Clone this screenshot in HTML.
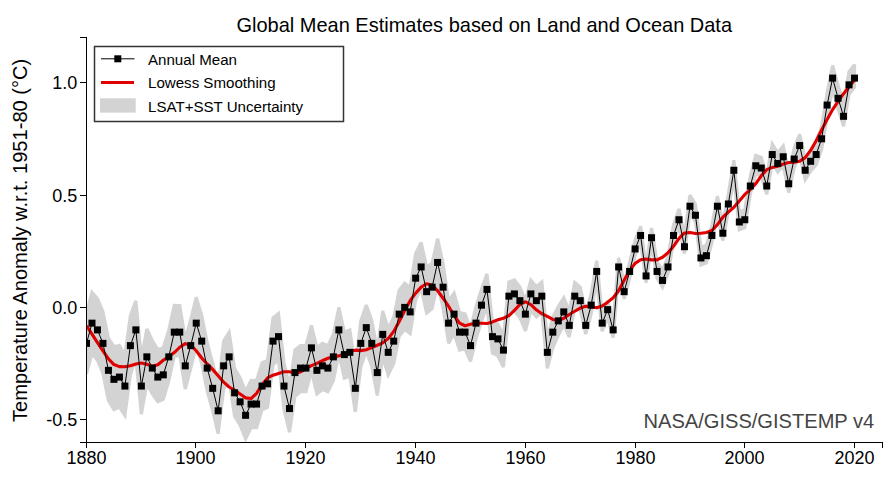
<!DOCTYPE html>
<html><head><meta charset="utf-8"><style>
html,body{margin:0;padding:0;background:#fff;}
svg{display:block;}
text{font-family:"Liberation Sans",Arial,sans-serif;fill:#000;}
</style></head><body>
<svg width="892" height="484" viewBox="0 0 892 484">
<rect width="892" height="484" fill="#fff"/>
<defs><clipPath id="c"><rect x="87" y="30" width="800" height="412"/></clipPath></defs>
<g clip-path="url(#c)"><polygon points="86.50,313.02 91.99,292.34 97.47,298.63 102.96,311.67 108.44,338.20 113.93,346.74 119.42,345.39 124.90,355.28 130.39,315.72 135.87,300.88 141.36,357.98 146.85,328.98 152.33,340.45 157.82,349.66 163.30,347.64 168.79,329.88 174.28,305.38 179.76,305.60 185.25,339.55 190.73,319.54 196.22,297.28 201.71,315.49 207.19,342.69 212.68,363.15 218.16,385.86 223.65,341.12 229.14,332.35 234.62,368.55 240.11,377.76 245.59,391.48 251.08,380.46 256.57,380.57 262.05,362.70 267.54,360.57 273.02,317.97 278.51,313.58 284.00,363.15 289.48,385.74 294.97,349.89 300.45,345.50 305.94,345.62 311.43,325.38 316.91,347.86 322.40,343.37 327.88,345.62 333.37,334.38 338.86,307.40 344.34,332.13 349.83,329.88 355.31,365.85 360.80,320.89 366.29,304.93 371.77,320.44 377.26,349.44 382.74,311.00 388.23,328.76 393.72,317.29 399.20,290.09 404.69,283.12 410.17,287.39 415.66,253.45 421.15,242.43 426.63,267.39 432.12,263.11 437.60,238.61 443.09,263.56 448.58,300.88 454.06,293.24 459.55,312.57 465.03,313.92 470.52,328.76 476.01,306.73 481.49,289.19 486.98,273.90 492.46,321.56 497.95,324.26 503.44,335.72 508.92,282.00 514.41,279.97 519.89,286.94 525.38,300.66 530.87,280.20 536.35,286.72 541.84,282.00 547.32,337.97 552.81,317.52 558.30,306.50 563.78,297.73 569.27,311.45 574.75,282.45 580.24,287.17 585.73,312.80 591.21,293.46 596.70,260.64 602.18,313.24 607.67,300.66 613.16,320.89 618.64,257.94 624.13,282.67 629.61,262.44 635.10,239.96 640.59,226.25 646.07,266.49 651.56,228.05 657.04,261.54 662.53,270.31 668.02,256.60 673.50,224.90 678.99,208.94 684.47,235.69 689.96,195.00 695.45,204.22 700.93,247.15 706.42,245.13 711.90,225.12 717.39,196.12 722.88,223.10 728.36,193.88 733.85,160.16 739.33,211.86 744.82,209.61 750.31,175.78 755.79,155.44 761.28,157.57 766.76,175.44 772.25,143.86 777.74,152.74 783.22,145.88 788.71,172.74 794.19,147.90 799.68,134.30 805.17,158.81 810.65,149.59 816.14,142.62 821.62,126.66 827.11,92.72 832.60,65.52 838.08,85.52 843.57,103.28 849.05,71.58 854.54,64.62 854.54,87.10 849.05,94.29 843.57,126.21 838.08,108.68 832.60,88.89 827.11,116.32 821.62,149.59 816.14,164.88 810.65,171.17 805.17,179.71 799.68,154.54 794.19,167.91 788.71,192.53 783.22,165.44 777.74,172.07 772.25,162.97 766.76,194.33 761.28,176.23 755.79,173.87 750.31,193.99 744.82,227.60 739.33,229.73 733.85,177.92 728.36,211.52 722.88,240.63 717.39,213.55 711.90,242.66 706.42,262.78 700.93,264.91 695.45,222.09 689.96,212.98 684.47,253.45 678.99,226.47 673.50,242.21 668.02,273.68 662.53,287.17 657.04,278.18 651.56,244.46 646.07,282.67 640.59,242.21 635.10,255.70 629.61,278.40 624.13,298.86 618.64,274.35 613.16,337.52 607.67,317.52 602.18,331.23 596.70,279.75 591.21,313.69 585.73,334.15 580.24,309.65 574.75,306.50 569.27,337.07 563.78,324.93 558.30,335.28 552.81,347.86 547.32,368.32 541.84,312.35 536.35,317.07 530.87,310.55 525.38,331.00 519.89,317.52 514.41,310.77 508.92,313.02 503.44,366.97 497.95,355.73 492.46,353.26 486.98,305.83 481.49,321.34 476.01,339.10 470.52,361.35 465.03,348.99 459.55,350.11 454.06,333.25 448.58,343.37 443.09,308.52 437.60,283.80 432.12,308.52 426.63,313.02 421.15,288.29 415.66,299.53 410.17,333.48 404.69,329.21 399.20,336.17 393.72,363.38 388.23,374.84 382.74,357.08 377.26,395.52 371.77,366.52 366.29,351.01 360.80,366.97 355.31,411.93 349.83,375.96 344.34,378.21 338.86,353.48 333.37,380.46 327.88,391.70 322.40,389.45 316.91,393.95 311.43,371.47 305.94,391.70 300.45,391.70 294.97,396.20 289.48,432.16 284.00,409.68 278.51,360.23 273.02,364.72 267.54,407.44 262.05,409.68 256.57,427.67 251.08,427.67 245.59,438.80 240.11,425.20 234.62,416.09 229.14,380.01 223.65,388.89 218.16,433.74 212.68,411.15 207.19,390.80 201.71,363.71 196.22,345.62 190.73,368.42 185.25,388.97 179.76,355.57 174.28,355.89 168.79,380.94 163.30,399.25 157.82,401.82 152.33,393.95 146.85,383.83 141.36,414.18 135.87,358.43 130.39,374.62 124.90,415.53 119.42,406.99 113.93,409.68 108.44,400.69 102.96,373.72 97.47,360.23 91.99,353.48 86.50,373.72" fill="#d3d3d3" stroke="#d3d3d3" stroke-width="3.2" stroke-linejoin="miter" stroke-miterlimit="3"/>
<polyline points="86.50,325.74 91.99,334.17 97.47,342.63 102.96,350.79 108.44,358.88 113.93,364.55 119.42,366.61 124.90,366.79 130.39,365.66 135.87,363.92 141.36,363.04 146.85,364.26 152.33,366.24 157.82,364.80 163.30,360.20 168.79,356.52 174.28,352.54 179.76,347.24 185.25,343.66 190.73,344.97 196.22,350.76 201.71,358.05 207.19,363.95 212.68,369.37 218.16,375.76 223.65,382.18 229.14,386.98 234.62,390.24 240.11,394.00 245.59,397.85 251.08,398.53 256.57,393.43 262.05,384.71 267.54,377.96 273.02,375.17 278.51,373.42 284.00,371.79 289.48,371.79 294.97,372.95 300.45,371.93 305.94,368.56 311.43,365.59 316.91,363.39 322.40,360.71 327.88,358.28 333.37,356.80 338.86,355.89 344.34,354.15 349.83,351.48 355.31,350.16 360.80,350.60 366.29,349.73 371.77,347.61 377.26,345.27 382.74,342.86 388.23,338.57 393.72,331.42 399.20,321.51 404.69,310.57 410.17,300.69 415.66,293.11 421.15,287.16 426.63,283.69 432.12,285.01 437.60,290.72 443.09,298.22 448.58,306.25 454.06,315.53 459.55,323.19 465.03,325.76 470.52,324.22 476.01,323.07 481.49,323.24 486.98,323.52 492.46,321.92 497.95,319.72 503.44,318.22 508.92,315.70 514.41,310.35 519.89,304.46 525.38,301.75 530.87,304.63 536.35,309.77 541.84,313.68 547.32,316.46 552.81,319.47 558.30,320.54 563.78,318.29 569.27,314.49 574.75,311.26 580.24,308.06 585.73,306.31 591.21,306.67 596.70,307.84 602.18,305.97 607.67,302.15 613.16,297.81 618.64,290.81 624.13,280.30 629.61,270.59 635.10,263.33 640.59,259.81 646.07,258.95 651.56,259.90 657.04,259.90 662.53,257.27 668.02,252.73 673.50,246.34 678.99,238.29 684.47,232.97 689.96,232.49 695.45,233.45 700.93,233.18 706.42,232.41 711.90,230.56 717.39,224.67 722.88,217.23 728.36,212.11 733.85,207.32 739.33,201.01 744.82,194.41 750.31,189.54 755.79,183.64 761.28,175.80 766.76,169.66 772.25,167.43 777.74,166.24 783.22,164.10 788.71,162.49 794.19,162.31 799.68,161.34 805.17,157.61 810.65,150.40 816.14,140.68 821.62,130.03 827.11,119.64 832.60,109.52 838.08,101.41 843.57,93.69 849.05,86.70 854.54,80.12" fill="none" stroke="#e00000" stroke-width="3.1" stroke-linejoin="round"/>
<polyline points="86.50,343.37 91.99,323.14 97.47,329.88 102.96,343.37 108.44,370.34 113.93,379.34 119.42,377.09 124.90,386.08 130.39,345.62 135.87,329.88 141.36,386.08 146.85,356.86 152.33,368.10 157.82,377.09 163.30,374.84 168.79,356.86 174.28,332.13 179.76,332.13 185.25,365.85 190.73,345.62 196.22,323.14 201.71,341.12 207.19,368.10 212.68,388.33 218.16,410.81 223.65,365.85 229.14,356.86 234.62,392.82 240.11,401.82 245.59,415.30 251.08,404.06 256.57,404.06 262.05,386.08 267.54,383.83 273.02,341.12 278.51,336.62 284.00,386.08 289.48,408.56 294.97,372.59 300.45,368.10 305.94,368.10 311.43,347.86 316.91,370.34 322.40,365.85 327.88,368.10 333.37,356.86 338.86,329.88 344.34,354.61 349.83,352.36 355.31,388.33 360.80,343.37 366.29,327.63 371.77,343.37 377.26,372.59 382.74,334.38 388.23,352.36 393.72,341.12 399.20,314.14 404.69,307.40 410.17,311.90 415.66,278.18 421.15,266.94 426.63,291.66 432.12,287.17 437.60,262.44 443.09,287.17 448.58,323.14 454.06,314.14 459.55,332.13 465.03,332.13 470.52,345.62 476.01,323.14 481.49,305.15 486.98,289.42 492.46,336.62 497.95,338.87 503.44,350.11 508.92,296.16 514.41,293.91 519.89,300.66 525.38,314.14 530.87,293.91 536.35,300.66 541.84,296.16 547.32,352.36 552.81,332.13 558.30,320.89 563.78,311.90 569.27,325.38 574.75,296.16 580.24,300.66 585.73,325.38 591.21,305.15 596.70,271.43 602.18,323.14 607.67,309.65 613.16,329.88 618.64,266.94 624.13,291.66 629.61,271.43 635.10,248.95 640.59,235.46 646.07,275.93 651.56,237.71 657.04,271.43 662.53,280.42 668.02,266.94 673.50,235.46 678.99,219.73 684.47,246.70 689.96,206.24 695.45,215.23 700.93,257.94 706.42,255.70 711.90,235.46 717.39,206.24 722.88,233.22 728.36,203.99 733.85,170.27 739.33,221.98 744.82,219.73 750.31,186.01 755.79,165.78 761.28,168.02 766.76,186.01 772.25,154.54 777.74,163.53 783.22,156.78 788.71,183.76 794.19,159.03 799.68,145.54 805.17,170.27 810.65,161.28 816.14,154.54 821.62,138.80 827.11,105.08 832.60,78.10 838.08,98.34 843.57,116.32 849.05,84.85 854.54,78.10" fill="none" stroke="#000" stroke-width="1"/>
<g fill="#000"><rect x="83.00" y="339.87" width="7.0" height="7.0"/><rect x="88.49" y="319.64" width="7.0" height="7.0"/><rect x="93.97" y="326.38" width="7.0" height="7.0"/><rect x="99.46" y="339.87" width="7.0" height="7.0"/><rect x="104.94" y="366.84" width="7.0" height="7.0"/><rect x="110.43" y="375.84" width="7.0" height="7.0"/><rect x="115.92" y="373.59" width="7.0" height="7.0"/><rect x="121.40" y="382.58" width="7.0" height="7.0"/><rect x="126.89" y="342.12" width="7.0" height="7.0"/><rect x="132.37" y="326.38" width="7.0" height="7.0"/><rect x="137.86" y="382.58" width="7.0" height="7.0"/><rect x="143.35" y="353.36" width="7.0" height="7.0"/><rect x="148.83" y="364.60" width="7.0" height="7.0"/><rect x="154.32" y="373.59" width="7.0" height="7.0"/><rect x="159.80" y="371.34" width="7.0" height="7.0"/><rect x="165.29" y="353.36" width="7.0" height="7.0"/><rect x="170.78" y="328.63" width="7.0" height="7.0"/><rect x="176.26" y="328.63" width="7.0" height="7.0"/><rect x="181.75" y="362.35" width="7.0" height="7.0"/><rect x="187.23" y="342.12" width="7.0" height="7.0"/><rect x="192.72" y="319.64" width="7.0" height="7.0"/><rect x="198.21" y="337.62" width="7.0" height="7.0"/><rect x="203.69" y="364.60" width="7.0" height="7.0"/><rect x="209.18" y="384.83" width="7.0" height="7.0"/><rect x="214.66" y="407.31" width="7.0" height="7.0"/><rect x="220.15" y="362.35" width="7.0" height="7.0"/><rect x="225.64" y="353.36" width="7.0" height="7.0"/><rect x="231.12" y="389.32" width="7.0" height="7.0"/><rect x="236.61" y="398.32" width="7.0" height="7.0"/><rect x="242.09" y="411.80" width="7.0" height="7.0"/><rect x="247.58" y="400.56" width="7.0" height="7.0"/><rect x="253.07" y="400.56" width="7.0" height="7.0"/><rect x="258.55" y="382.58" width="7.0" height="7.0"/><rect x="264.04" y="380.33" width="7.0" height="7.0"/><rect x="269.52" y="337.62" width="7.0" height="7.0"/><rect x="275.01" y="333.12" width="7.0" height="7.0"/><rect x="280.50" y="382.58" width="7.0" height="7.0"/><rect x="285.98" y="405.06" width="7.0" height="7.0"/><rect x="291.47" y="369.09" width="7.0" height="7.0"/><rect x="296.95" y="364.60" width="7.0" height="7.0"/><rect x="302.44" y="364.60" width="7.0" height="7.0"/><rect x="307.93" y="344.36" width="7.0" height="7.0"/><rect x="313.41" y="366.84" width="7.0" height="7.0"/><rect x="318.90" y="362.35" width="7.0" height="7.0"/><rect x="324.38" y="364.60" width="7.0" height="7.0"/><rect x="329.87" y="353.36" width="7.0" height="7.0"/><rect x="335.36" y="326.38" width="7.0" height="7.0"/><rect x="340.84" y="351.11" width="7.0" height="7.0"/><rect x="346.33" y="348.86" width="7.0" height="7.0"/><rect x="351.81" y="384.83" width="7.0" height="7.0"/><rect x="357.30" y="339.87" width="7.0" height="7.0"/><rect x="362.79" y="324.13" width="7.0" height="7.0"/><rect x="368.27" y="339.87" width="7.0" height="7.0"/><rect x="373.76" y="369.09" width="7.0" height="7.0"/><rect x="379.24" y="330.88" width="7.0" height="7.0"/><rect x="384.73" y="348.86" width="7.0" height="7.0"/><rect x="390.22" y="337.62" width="7.0" height="7.0"/><rect x="395.70" y="310.64" width="7.0" height="7.0"/><rect x="401.19" y="303.90" width="7.0" height="7.0"/><rect x="406.67" y="308.40" width="7.0" height="7.0"/><rect x="412.16" y="274.68" width="7.0" height="7.0"/><rect x="417.65" y="263.44" width="7.0" height="7.0"/><rect x="423.13" y="288.16" width="7.0" height="7.0"/><rect x="428.62" y="283.67" width="7.0" height="7.0"/><rect x="434.10" y="258.94" width="7.0" height="7.0"/><rect x="439.59" y="283.67" width="7.0" height="7.0"/><rect x="445.08" y="319.64" width="7.0" height="7.0"/><rect x="450.56" y="310.64" width="7.0" height="7.0"/><rect x="456.05" y="328.63" width="7.0" height="7.0"/><rect x="461.53" y="328.63" width="7.0" height="7.0"/><rect x="467.02" y="342.12" width="7.0" height="7.0"/><rect x="472.51" y="319.64" width="7.0" height="7.0"/><rect x="477.99" y="301.65" width="7.0" height="7.0"/><rect x="483.48" y="285.92" width="7.0" height="7.0"/><rect x="488.96" y="333.12" width="7.0" height="7.0"/><rect x="494.45" y="335.37" width="7.0" height="7.0"/><rect x="499.94" y="346.61" width="7.0" height="7.0"/><rect x="505.42" y="292.66" width="7.0" height="7.0"/><rect x="510.91" y="290.41" width="7.0" height="7.0"/><rect x="516.39" y="297.16" width="7.0" height="7.0"/><rect x="521.88" y="310.64" width="7.0" height="7.0"/><rect x="527.37" y="290.41" width="7.0" height="7.0"/><rect x="532.85" y="297.16" width="7.0" height="7.0"/><rect x="538.34" y="292.66" width="7.0" height="7.0"/><rect x="543.82" y="348.86" width="7.0" height="7.0"/><rect x="549.31" y="328.63" width="7.0" height="7.0"/><rect x="554.80" y="317.39" width="7.0" height="7.0"/><rect x="560.28" y="308.40" width="7.0" height="7.0"/><rect x="565.77" y="321.88" width="7.0" height="7.0"/><rect x="571.25" y="292.66" width="7.0" height="7.0"/><rect x="576.74" y="297.16" width="7.0" height="7.0"/><rect x="582.23" y="321.88" width="7.0" height="7.0"/><rect x="587.71" y="301.65" width="7.0" height="7.0"/><rect x="593.20" y="267.93" width="7.0" height="7.0"/><rect x="598.68" y="319.64" width="7.0" height="7.0"/><rect x="604.17" y="306.15" width="7.0" height="7.0"/><rect x="609.66" y="326.38" width="7.0" height="7.0"/><rect x="615.14" y="263.44" width="7.0" height="7.0"/><rect x="620.63" y="288.16" width="7.0" height="7.0"/><rect x="626.11" y="267.93" width="7.0" height="7.0"/><rect x="631.60" y="245.45" width="7.0" height="7.0"/><rect x="637.09" y="231.96" width="7.0" height="7.0"/><rect x="642.57" y="272.43" width="7.0" height="7.0"/><rect x="648.06" y="234.21" width="7.0" height="7.0"/><rect x="653.54" y="267.93" width="7.0" height="7.0"/><rect x="659.03" y="276.92" width="7.0" height="7.0"/><rect x="664.52" y="263.44" width="7.0" height="7.0"/><rect x="670.00" y="231.96" width="7.0" height="7.0"/><rect x="675.49" y="216.23" width="7.0" height="7.0"/><rect x="680.97" y="243.20" width="7.0" height="7.0"/><rect x="686.46" y="202.74" width="7.0" height="7.0"/><rect x="691.95" y="211.73" width="7.0" height="7.0"/><rect x="697.43" y="254.44" width="7.0" height="7.0"/><rect x="702.92" y="252.20" width="7.0" height="7.0"/><rect x="708.40" y="231.96" width="7.0" height="7.0"/><rect x="713.89" y="202.74" width="7.0" height="7.0"/><rect x="719.38" y="229.72" width="7.0" height="7.0"/><rect x="724.86" y="200.49" width="7.0" height="7.0"/><rect x="730.35" y="166.77" width="7.0" height="7.0"/><rect x="735.83" y="218.48" width="7.0" height="7.0"/><rect x="741.32" y="216.23" width="7.0" height="7.0"/><rect x="746.81" y="182.51" width="7.0" height="7.0"/><rect x="752.29" y="162.28" width="7.0" height="7.0"/><rect x="757.78" y="164.52" width="7.0" height="7.0"/><rect x="763.26" y="182.51" width="7.0" height="7.0"/><rect x="768.75" y="151.04" width="7.0" height="7.0"/><rect x="774.24" y="160.03" width="7.0" height="7.0"/><rect x="779.72" y="153.28" width="7.0" height="7.0"/><rect x="785.21" y="180.26" width="7.0" height="7.0"/><rect x="790.69" y="155.53" width="7.0" height="7.0"/><rect x="796.18" y="142.04" width="7.0" height="7.0"/><rect x="801.67" y="166.77" width="7.0" height="7.0"/><rect x="807.15" y="157.78" width="7.0" height="7.0"/><rect x="812.64" y="151.04" width="7.0" height="7.0"/><rect x="818.12" y="135.30" width="7.0" height="7.0"/><rect x="823.61" y="101.58" width="7.0" height="7.0"/><rect x="829.10" y="74.60" width="7.0" height="7.0"/><rect x="834.58" y="94.84" width="7.0" height="7.0"/><rect x="840.07" y="112.82" width="7.0" height="7.0"/><rect x="845.55" y="81.35" width="7.0" height="7.0"/><rect x="851.04" y="74.60" width="7.0" height="7.0"/></g></g>
<g stroke="#000" stroke-width="1" fill="none">
<line x1="86.5" y1="37" x2="86.5" y2="448"/>
<line x1="80" y1="442.5" x2="883" y2="442.5"/>
<line x1="86.5" y1="442" x2="86.5" y2="448"/><line x1="195.5" y1="442" x2="195.5" y2="448"/><line x1="305.5" y1="442" x2="305.5" y2="448"/><line x1="415.5" y1="442" x2="415.5" y2="448"/><line x1="525.5" y1="442" x2="525.5" y2="448"/><line x1="635.5" y1="442" x2="635.5" y2="448"/><line x1="744.5" y1="442" x2="744.5" y2="448"/><line x1="854.5" y1="442" x2="854.5" y2="448"/><line x1="882.5" y1="442" x2="882.5" y2="448"/><line x1="80" y1="82.5" x2="87" y2="82.5"/><line x1="80" y1="195.5" x2="87" y2="195.5"/><line x1="80" y1="307.5" x2="87" y2="307.5"/><line x1="80" y1="419.5" x2="87" y2="419.5"/><line x1="80" y1="37.5" x2="87" y2="37.5"/>
</g>
<g font-size="18"><text x="86.5" y="464" text-anchor="middle">1880</text><text x="195.5" y="464" text-anchor="middle">1900</text><text x="305.5" y="464" text-anchor="middle">1920</text><text x="415.5" y="464" text-anchor="middle">1940</text><text x="525.5" y="464" text-anchor="middle">1960</text><text x="635.5" y="464" text-anchor="middle">1980</text><text x="744.5" y="464" text-anchor="middle">2000</text><text x="854.5" y="464" text-anchor="middle">2020</text><text x="77.2" y="89.1" text-anchor="end">1.0</text><text x="77.2" y="202.1" text-anchor="end">0.5</text><text x="77.2" y="314.1" text-anchor="end">0.0</text><text x="77.2" y="426.1" text-anchor="end">-0.5</text></g>
<text transform="translate(484.25 31.7) scale(1 1.04)" font-size="20" text-anchor="middle">Global Mean Estimates based on Land and Ocean Data</text>
<text transform="translate(26.6,240.35) rotate(-90) scale(1 1.04)" font-size="20.1" text-anchor="middle">Temperature Anomaly w.r.t. 1951-80 (°C)</text>
<text transform="translate(874.2 427.7) scale(1 1.05)" font-size="20.1" text-anchor="end" style="fill:#444">NASA/GISS/GISTEMP v4</text>
<rect x="94.5" y="46.5" width="249" height="75" fill="#fff" stroke="#333" stroke-width="1.5"/>
<line x1="101" y1="58.8" x2="134.5" y2="58.8" stroke="#000" stroke-width="1"/>
<rect x="114.3" y="55.3" width="7" height="7" fill="#000"/>
<line x1="101" y1="82.4" x2="134" y2="82.4" stroke="#e00000" stroke-width="3"/>
<rect x="100" y="98.3" width="35.7" height="14.3" fill="#d3d3d3"/>
<g font-size="15.1">
<text x="148" y="64.6">Annual Mean</text>
<text x="148" y="87.8">Lowess Smoothing</text>
<text x="148" y="111.7">LSAT+SST Uncertainty</text>
</g>
</svg>
</body></html>
